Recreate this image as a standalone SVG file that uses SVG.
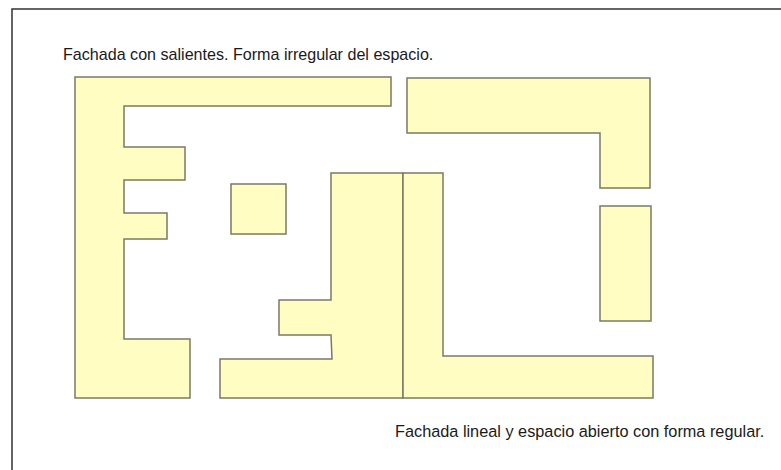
<svg xmlns="http://www.w3.org/2000/svg" width="781" height="470" viewBox="0 0 781 470">
<style>
.s{fill:#FFFDC2;stroke:#7A7A66;stroke-width:1.5;stroke-linejoin:miter}
.t{font-family:"Liberation Sans",Arial,sans-serif;font-size:16.3px;fill:#1a1a1a}
</style>
<rect x="0" y="0" width="781" height="470" fill="#ffffff"/>
<rect x="12" y="9" width="800" height="500" fill="none" stroke="#333333" stroke-width="1.5"/>
<text class="t" x="63" y="60" style="font-size:16.1px">Fachada con salientes. Forma irregular del espacio.</text>
<g id="facade-e"><polygon class="s" points="75,77 391,77 391,106 124,106 124,147 185,147 185,180 124,180 124,213 167,213 167,239 124,239 124,339 190,339 190,398 75,398"/></g>
<g id="square"><rect class="s" x="231" y="184" width="55" height="50"/></g>
<g id="irregular"><polygon class="s" points="331,173 403,173 403,398 220,398 220,359 332,359 331,335 279,335 279,300 331,300"/></g>
<g id="regular-l"><polygon class="s" points="403,173 443,173 443,356 653,356 653,398 403,398"/></g>
<g id="top-right-l"><polygon class="s" points="407,78 650,78 650,188 600,188 600,133 407,133"/></g>
<g id="right-rect"><rect class="s" x="600" y="206" width="51" height="115"/></g>
<text class="t" x="395" y="437">Fachada lineal y espacio abierto con forma regular.</text>
</svg>
